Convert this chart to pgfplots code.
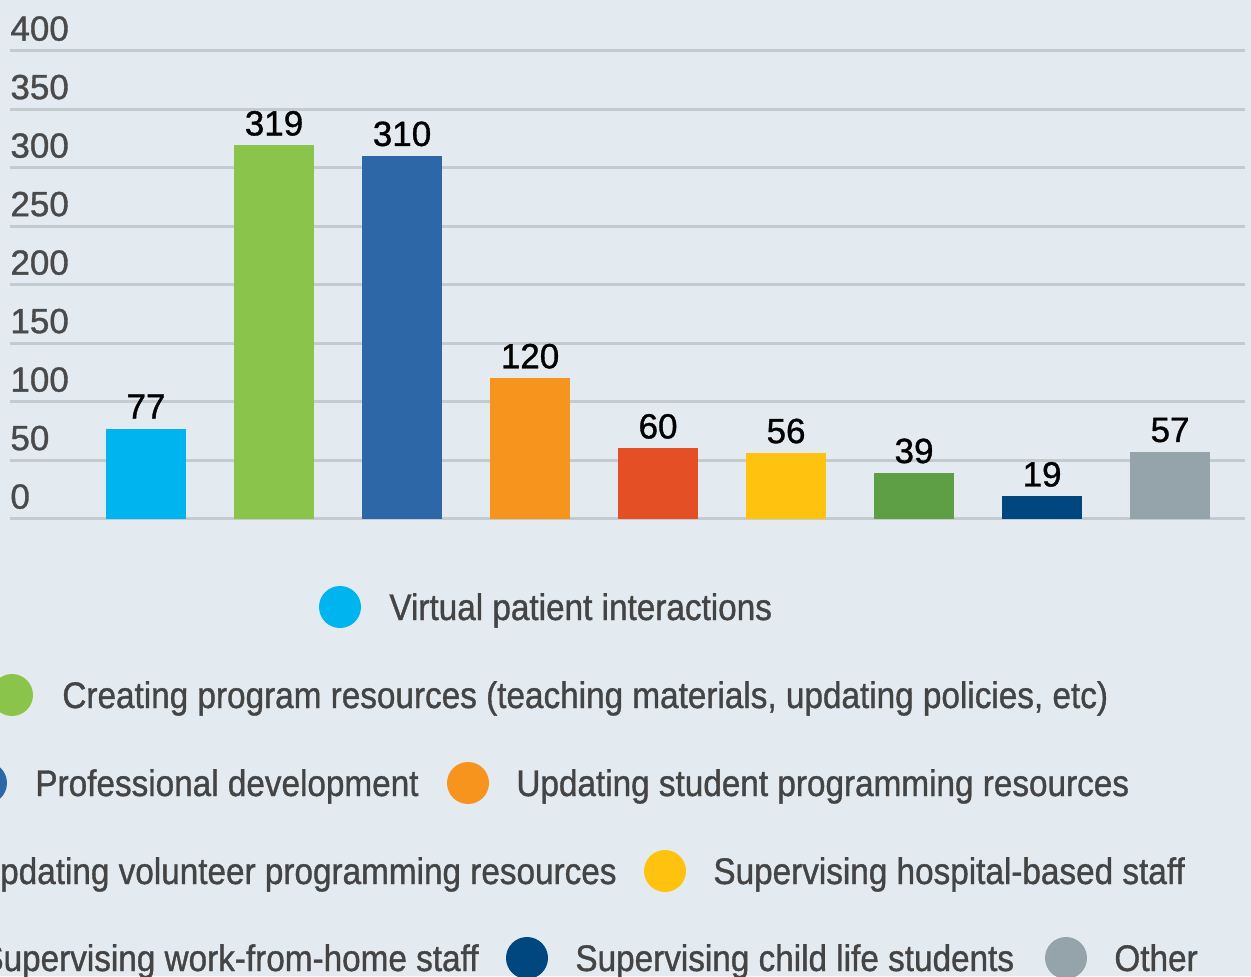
\documentclass[border=0pt]{standalone}
\usepackage{fontspec}
\setmainfont{Liberation Sans}
\newfontfamily\legfont[FakeStretch=0.9,FakeBold=1.0]{Liberation Sans}
\newfontfamily\nfont[FakeBold=1.0]{Liberation Sans}
\usepackage{pgfplots}
\pgfplotsset{compat=1.18}
\definecolor{bgc}{HTML}{E3EBF0}
\definecolor{gridc}{HTML}{C3CBCF}
\definecolor{tickc}{HTML}{4A4A4A}
\definecolor{legc}{HTML}{444444}
\definecolor{c1}{HTML}{00B4EF}
\definecolor{c2}{HTML}{8AC44A}
\definecolor{c3}{HTML}{2E67A7}
\definecolor{c4}{HTML}{F7941E}
\definecolor{c5}{HTML}{E44F26}
\definecolor{c6}{HTML}{FFC20E}
\definecolor{c7}{HTML}{5E9E44}
\definecolor{c8}{HTML}{00467F}
\definecolor{c9}{HTML}{95A3AB}
\newcommand\numfont{\nfont\fontsize{17.5pt}{20pt}\selectfont}
\newcommand\lfont{\legfont\fontsize{18.5pt}{21pt}\selectfont}
\tikzset{
  leg/.style={anchor=base west,inner sep=0pt,font=\lfont,text=legc},
  lege/.style={anchor=base east,inner sep=0pt,font=\lfont,text=legc},
}
\begin{document}
\begin{tikzpicture}[x=0.5pt,y=0.5pt]
\fill[bgc] (0,0) rectangle (1251,976);
\begin{scope}
\clip (0,0) rectangle (1251,976);
\begin{axis}[at={(7.85,390.9)}, anchor=south west, scale only axis,
  width=617.5pt, height=234pt,
  xmin=-1.0625, xmax=8.586, ymin=0, ymax=400,
  ytick={0,50,...,400}, xtick=\empty,
  axis line style={draw=none}, major tick length=0pt,
  ymajorgrids, grid style={color=gridc, line width=1.5pt},
  /pgf/number format/assume math mode=true,
  yticklabel style={anchor=base west, inner sep=0pt, yshift=5pt, font=\numfont, text=tickc},
  ybar, bar width=40pt, bar shift=0pt,
  nodes near coords,
  nodes near coords style={anchor=base, inner sep=0pt, yshift=5pt, font=\numfont, text=black},
  clip=false]
\addplot[fill=c1, draw=none] coordinates {(0,77)};
\addplot[fill=c2, draw=none] coordinates {(1,319)};
\addplot[fill=c3, draw=none] coordinates {(2,310)};
\addplot[fill=c4, draw=none] coordinates {(3,120)};
\addplot[fill=c5, draw=none] coordinates {(4,60)};
\addplot[fill=c6, draw=none] coordinates {(5,56)};
\addplot[fill=c7, draw=none] coordinates {(6,39)};
\addplot[fill=c8, draw=none] coordinates {(7,19)};
\addplot[fill=c9, draw=none] coordinates {(8,57)};
\end{axis}
% legend
\fill[c1] (340,369) circle[radius=10.5pt];
\node[leg] at (389,356) {Virtual patient interactions};
\fill[c2] (12,281) circle[radius=10.5pt];
\node[leg] at (62,268) {Creating program resources (teaching materials, updating policies, etc)};
\fill[c3] (-14,193) circle[radius=10.5pt];
\node[leg] at (35,180) {Professional development};
\fill[c4] (468,193) circle[radius=10.5pt];
\node[leg] at (516,180) {Updating student programming resources};
\node[lege] at (617,92) {Updating volunteer programming resources};
\fill[c6] (665,105) circle[radius=10.5pt];
\node[leg] at (713,92) {Supervising hospital-based staff};
\node[lege] at (479,5) {Supervising work-from-home staff};
\fill[c8] (527,18) circle[radius=10.5pt];
\node[leg] at (575,5) {Supervising child life students};
\fill[c9] (1066,18) circle[radius=10.5pt];
\node[leg] at (1114,5) {Other};
\end{scope}
\pgfresetboundingbox
\path[use as bounding box] (0,0) rectangle (1251,976);
\end{tikzpicture}
\end{document}
